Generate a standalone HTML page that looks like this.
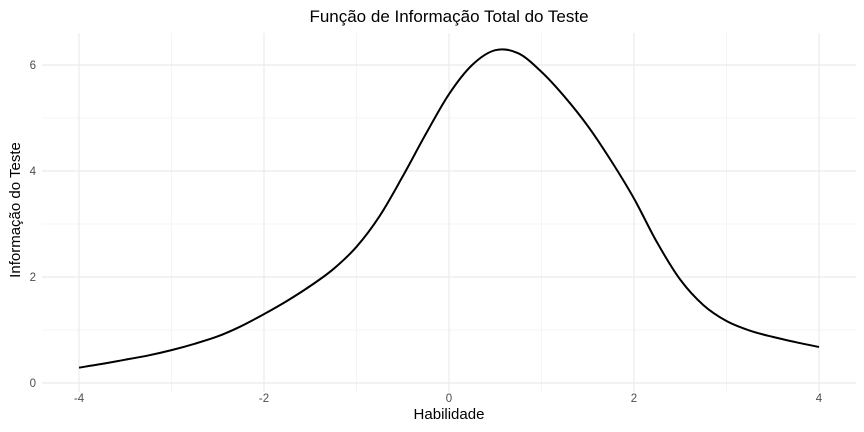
<!DOCTYPE html>
<html><head><meta charset="utf-8"><style>
body{margin:0;background:#fff}
svg{display:block;font-family:"Liberation Sans",sans-serif}
</style></head><body>
<svg id="chart" width="864" height="432">
<g id="grid"></g>
<g id="ticks"></g>
<path id="curve" fill="none" stroke="#000" stroke-width="2"></path>
<text x="449" y="22" text-anchor="middle" font-size="17" fill="#000">Função de Informação Total do Teste</text>
<text x="449" y="419" text-anchor="middle" font-size="15" fill="#000">Habilidade</text>
<text transform="translate(20,210) rotate(-90)" text-anchor="middle" font-size="15" fill="#000">Informação do Teste</text>
</svg>
<script>
const abilities=[-4,-3.75,-3.5,-3.25,-3,-2.75,-2.5,-2.25,-2,-1.75,-1.5,-1.25,-1,-0.75,-0.5,-0.25,0,0.25,0.5,0.75,1,1.25,1.5,1.75,2,2.25,2.5,2.75,3,3.25,3.5,3.75,4];
const information=[0.29,0.36,0.44,0.52,0.62,0.74,0.88,1.07,1.3,1.55,1.83,2.15,2.57,3.15,3.9,4.7,5.45,6.0,6.28,6.22,5.87,5.4,4.85,4.2,3.48,2.65,1.95,1.47,1.17,0.99,0.87,0.77,0.68];
const xTicks=[-4,-2,0,2,4];
const xMinor=[-3,-1,1,3];
const yTicks=[0,2,4,6];
const yMinor=[1,3,5];
const X=v=>449+v*92.5, Y=v=>383-v*53;
const ns="http://www.w3.org/2000/svg";
const grid=document.getElementById('grid'), ticks=document.getElementById('ticks');
function line(x1,y1,x2,y2,c,w,name){const l=document.createElementNS(ns,'line');
l.setAttribute('x1',x1);l.setAttribute('y1',y1);l.setAttribute('x2',x2);l.setAttribute('y2',y2);
l.setAttribute('stroke',c);l.setAttribute('stroke-width',w);


grid.appendChild(l);}
xMinor.forEach(v=>line(X(v),33,X(v),392,'#f3f3f3',0.8,'x-minor-grid'));
yMinor.forEach(v=>line(42,Y(v),856,Y(v),'#f3f3f3',0.8,'y-minor-grid'));
xTicks.forEach(v=>line(X(v),33,X(v),392,'#ebebeb',1.2,'x-major-grid'));
yTicks.forEach(v=>line(42,Y(v),856,Y(v),'#ebebeb',1.2,'y-major-grid'));
function txt(x,y,s,anchor,name){const t=document.createElementNS(ns,'text');
t.setAttribute('x',x);t.setAttribute('y',y);t.setAttribute('text-anchor',anchor);
t.setAttribute('font-size','11.5');t.setAttribute('fill','#4d4d4d');t.textContent=s;


ticks.appendChild(t);}
xTicks.forEach(v=>txt(X(v),402,String(v),'middle','x-tick-label'));
yTicks.forEach(v=>txt(36,Y(v)+4,String(v),'end','y-tick-label'));
const P=abilities.map((a,i)=>[X(a),Y(information[i])]);
let d='M'+P[0][0]+','+P[0][1];
for(let i=0;i<P.length-1;i++){const p0=P[i-1]||P[i],p1=P[i],p2=P[i+1],p3=P[i+2]||P[i+1];
d+=` C${p1[0]+(p2[0]-p0[0])/6},${p1[1]+(p2[1]-p0[1])/6} ${p2[0]-(p3[0]-p1[0])/6},${p2[1]-(p3[1]-p1[1])/6} ${p2[0]},${p2[1]}`;}
document.getElementById('curve').setAttribute('d',d);
</script>
</body></html>
